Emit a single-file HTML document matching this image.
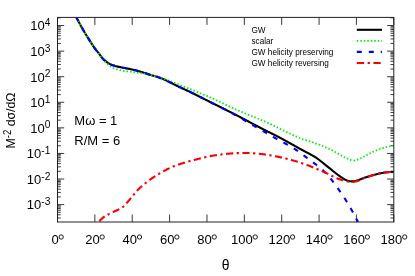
<!DOCTYPE html>
<html><head><meta charset="utf-8"><title>chart</title>
<style>html,body{margin:0;padding:0;background:#fff;}body{width:415px;height:276px;overflow:hidden;position:relative;font-family:"Liberation Sans",sans-serif;}</style></head>
<body>
<svg width="415" height="276" viewBox="0 0 415 276" style="display:block;position:absolute;left:0;top:0">
<rect x="0" y="0" width="415" height="276" fill="#fff"/>
<defs><clipPath id="pc"><rect x="57.5" y="17.4" width="336.3" height="204.6"/></clipPath></defs>
<path d="M57.5,204.61h6.7 M393.8,204.61h-6.7 M57.5,179.03h6.7 M393.8,179.03h-6.7 M57.5,153.45h6.7 M393.8,153.45h-6.7 M57.5,127.87h6.7 M393.8,127.87h-6.7 M57.5,102.29h6.7 M393.8,102.29h-6.7 M57.5,76.71h6.7 M393.8,76.71h-6.7 M57.5,51.13h6.7 M393.8,51.13h-6.7 M57.5,25.55h6.7 M393.8,25.55h-6.7 M57.5,217.99h3.3 M393.8,217.99h-3.3 M57.5,214.79h3.3 M393.8,214.79h-3.3 M57.5,212.31h3.3 M393.8,212.31h-3.3 M57.5,210.28h3.3 M393.8,210.28h-3.3 M57.5,208.57h3.3 M393.8,208.57h-3.3 M57.5,207.09h3.3 M393.8,207.09h-3.3 M57.5,205.78h3.3 M393.8,205.78h-3.3 M57.5,196.91h3.3 M393.8,196.91h-3.3 M57.5,192.41h3.3 M393.8,192.41h-3.3 M57.5,189.21h3.3 M393.8,189.21h-3.3 M57.5,186.73h3.3 M393.8,186.73h-3.3 M57.5,184.70h3.3 M393.8,184.70h-3.3 M57.5,182.99h3.3 M393.8,182.99h-3.3 M57.5,181.51h3.3 M393.8,181.51h-3.3 M57.5,180.20h3.3 M393.8,180.20h-3.3 M57.5,171.33h3.3 M393.8,171.33h-3.3 M57.5,166.83h3.3 M393.8,166.83h-3.3 M57.5,163.63h3.3 M393.8,163.63h-3.3 M57.5,161.15h3.3 M393.8,161.15h-3.3 M57.5,159.12h3.3 M393.8,159.12h-3.3 M57.5,157.41h3.3 M393.8,157.41h-3.3 M57.5,155.93h3.3 M393.8,155.93h-3.3 M57.5,154.62h3.3 M393.8,154.62h-3.3 M57.5,145.75h3.3 M393.8,145.75h-3.3 M57.5,141.25h3.3 M393.8,141.25h-3.3 M57.5,138.05h3.3 M393.8,138.05h-3.3 M57.5,135.57h3.3 M393.8,135.57h-3.3 M57.5,133.54h3.3 M393.8,133.54h-3.3 M57.5,131.83h3.3 M393.8,131.83h-3.3 M57.5,130.35h3.3 M393.8,130.35h-3.3 M57.5,129.04h3.3 M393.8,129.04h-3.3 M57.5,120.17h3.3 M393.8,120.17h-3.3 M57.5,115.67h3.3 M393.8,115.67h-3.3 M57.5,112.47h3.3 M393.8,112.47h-3.3 M57.5,109.99h3.3 M393.8,109.99h-3.3 M57.5,107.96h3.3 M393.8,107.96h-3.3 M57.5,106.25h3.3 M393.8,106.25h-3.3 M57.5,104.77h3.3 M393.8,104.77h-3.3 M57.5,103.46h3.3 M393.8,103.46h-3.3 M57.5,94.59h3.3 M393.8,94.59h-3.3 M57.5,90.09h3.3 M393.8,90.09h-3.3 M57.5,86.89h3.3 M393.8,86.89h-3.3 M57.5,84.41h3.3 M393.8,84.41h-3.3 M57.5,82.38h3.3 M393.8,82.38h-3.3 M57.5,80.67h3.3 M393.8,80.67h-3.3 M57.5,79.19h3.3 M393.8,79.19h-3.3 M57.5,77.88h3.3 M393.8,77.88h-3.3 M57.5,69.01h3.3 M393.8,69.01h-3.3 M57.5,64.51h3.3 M393.8,64.51h-3.3 M57.5,61.31h3.3 M393.8,61.31h-3.3 M57.5,58.83h3.3 M393.8,58.83h-3.3 M57.5,56.80h3.3 M393.8,56.80h-3.3 M57.5,55.09h3.3 M393.8,55.09h-3.3 M57.5,53.61h3.3 M393.8,53.61h-3.3 M57.5,52.30h3.3 M393.8,52.30h-3.3 M57.5,43.43h3.3 M393.8,43.43h-3.3 M57.5,38.93h3.3 M393.8,38.93h-3.3 M57.5,35.73h3.3 M393.8,35.73h-3.3 M57.5,33.25h3.3 M393.8,33.25h-3.3 M57.5,31.22h3.3 M393.8,31.22h-3.3 M57.5,29.51h3.3 M393.8,29.51h-3.3 M57.5,28.03h3.3 M393.8,28.03h-3.3 M57.5,26.72h3.3 M393.8,26.72h-3.3 M57.5,17.85h3.3 M393.8,17.85h-3.3 M57.50,222.0v-7.5 M57.50,17.4v7.5 M94.87,222.0v-7.5 M94.87,17.4v7.5 M132.23,222.0v-7.5 M132.23,17.4v7.5 M169.60,222.0v-7.5 M169.60,17.4v7.5 M206.97,222.0v-7.5 M206.97,17.4v7.5 M244.33,222.0v-7.5 M244.33,17.4v7.5 M281.70,222.0v-7.5 M281.70,17.4v7.5 M319.07,222.0v-7.5 M319.07,17.4v7.5 M356.43,222.0v-7.5 M356.43,17.4v7.5 M393.80,222.0v-7.5 M393.80,17.4v7.5" stroke="#222" stroke-width="0.9" fill="none"/>
<g clip-path="url(#pc)" fill="none" stroke-linejoin="round">
<path d="M76.40,17.40 L77.04,18.65 L77.67,19.88 L78.31,21.11 L78.94,22.31 L79.58,23.51 L80.22,24.68 L80.85,25.84 L81.49,26.98 L82.12,28.10 L82.76,29.21 L83.39,30.31 L84.03,31.40 L84.67,32.47 L85.30,33.53 L85.94,34.57 L86.57,35.61 L87.21,36.63 L87.85,37.65 L88.48,38.66 L89.12,39.67 L89.75,40.67 L90.39,41.66 L91.03,42.65 L91.66,43.64 L92.30,44.62 L92.93,45.59 L93.57,46.54 L94.20,47.48 L94.84,48.38 L95.48,49.24 L96.11,50.06 L96.75,50.84 L97.38,51.61 L98.02,52.38 L98.66,53.16 L99.29,53.98 L99.93,54.87 L100.56,55.79 L101.20,56.69 L101.83,57.55 L102.47,58.31 L103.11,58.99 L103.74,59.59 L104.38,60.14 L105.01,60.65 L105.65,61.13 L106.29,61.62 L106.92,62.10 L107.56,62.56 L108.19,63.01 L108.83,63.42 L109.47,63.78 L110.10,64.11 L110.74,64.41 L111.37,64.69 L112.01,64.94 L112.64,65.18 L113.28,65.39 L113.92,65.60 L114.55,65.81 L115.19,66.01 L115.82,66.19 L116.46,66.35 L117.10,66.48 L117.73,66.62 L118.37,66.75 L119.00,66.88 L119.64,67.02 L120.28,67.15 L120.91,67.28 L121.55,67.41 L122.18,67.54 L122.82,67.66 L123.45,67.79 L124.09,67.92 L124.73,68.04 L125.36,68.17 L126.00,68.29 L126.63,68.41 L127.27,68.53 L127.91,68.65 L128.54,68.78 L129.18,68.90 L129.81,69.02 L130.45,69.15 L131.08,69.28 L131.72,69.41 L132.36,69.54 L132.99,69.69 L133.63,69.83 L134.26,69.99 L134.90,70.14 L135.54,70.30 L136.17,70.47 L136.81,70.64 L137.44,70.81 L138.08,70.98 L138.72,71.16 L139.35,71.34 L139.99,71.52 L140.62,71.71 L141.26,71.90 L141.89,72.10 L142.53,72.29 L143.17,72.49 L143.80,72.69 L144.44,72.89 L145.07,73.10 L145.71,73.30 L146.35,73.52 L146.98,73.74 L147.62,73.97 L148.25,74.20 L148.89,74.42 L149.53,74.64 L150.16,74.85 L150.80,75.05 L151.43,75.23 L152.07,75.40 L152.70,75.57 L153.34,75.73 L153.98,75.90 L154.61,76.08 L155.25,76.28 L155.88,76.47 L156.52,76.67 L157.16,76.87 L157.79,77.07 L158.43,77.27 L159.06,77.48 L159.70,77.70 L160.34,77.92 L160.97,78.15 L161.61,78.39 L162.24,78.64 L162.88,78.89 L163.51,79.16 L164.15,79.44 L164.79,79.73 L165.42,80.03 L166.06,80.33 L166.69,80.64 L167.33,80.95 L167.97,81.26 L168.60,81.58 L169.24,81.90 L169.87,82.22 L170.51,82.54 L171.14,82.87 L171.78,83.19 L172.42,83.51 L173.05,83.84 L173.69,84.16 L174.32,84.49 L174.96,84.81 L175.60,85.13 L176.23,85.45 L176.87,85.77 L177.50,86.08 L178.14,86.39 L178.78,86.69 L179.41,86.99 L180.05,87.29 L180.68,87.59 L181.32,87.89 L181.95,88.18 L182.59,88.47 L183.23,88.77 L183.86,89.06 L184.50,89.35 L185.13,89.64 L185.77,89.93 L186.41,90.23 L187.04,90.52 L187.68,90.81 L188.31,91.11 L188.95,91.41 L189.59,91.70 L190.22,92.01 L190.86,92.31 L191.49,92.61 L192.13,92.92 L192.76,93.24 L193.40,93.55 L194.04,93.87 L194.67,94.19 L195.31,94.51 L195.94,94.83 L196.58,95.15 L197.22,95.47 L197.85,95.79 L198.49,96.11 L199.12,96.43 L199.76,96.75 L200.39,97.08 L201.03,97.40 L201.67,97.72 L202.30,98.04 L202.94,98.36 L203.57,98.68 L204.21,99.00 L204.85,99.32 L205.48,99.64 L206.12,99.96 L206.75,100.28 L207.39,100.60 L208.03,100.92 L208.66,101.23 L209.30,101.55 L209.93,101.87 L210.57,102.19 L211.20,102.50 L211.84,102.82 L212.48,103.14 L213.11,103.46 L213.75,103.77 L214.38,104.09 L215.02,104.41 L215.66,104.72 L216.29,105.04 L216.93,105.36 L217.56,105.68 L218.20,105.99 L218.84,106.31 L219.47,106.63 L220.11,106.94 L220.74,107.26 L221.38,107.58 L222.01,107.89 L222.65,108.21 L223.29,108.53 L223.92,108.85 L224.56,109.16 L225.19,109.48 L225.83,109.80 L226.47,110.12 L227.10,110.44 L227.74,110.75 L228.37,111.07 L229.01,111.39 L229.65,111.71 L230.28,112.03 L230.92,112.35 L231.55,112.67 L232.19,112.99 L232.82,113.31 L233.46,113.63 L234.10,113.95 L234.73,114.27 L235.37,114.59 L236.00,114.92 L236.64,115.24 L237.28,115.57 L237.91,115.90 L238.55,116.23 L239.18,116.56 L239.82,116.89 L240.45,117.23 L241.09,117.56 L241.73,117.90 L242.36,118.23 L243.00,118.57 L243.63,118.90 L244.27,119.24 L244.91,119.58 L245.54,119.92 L246.18,120.26 L246.81,120.60 L247.45,120.94 L248.09,121.28 L248.72,121.62 L249.36,121.96 L249.99,122.30 L250.63,122.64 L251.26,122.98 L251.90,123.32 L252.54,123.66 L253.17,124.00 L253.81,124.34 L254.44,124.68 L255.08,125.02 L255.72,125.36 L256.35,125.69 L256.99,126.03 L257.62,126.37 L258.26,126.70 L258.90,127.04 L259.53,127.37 L260.17,127.71 L260.80,128.04 L261.44,128.37 L262.07,128.70 L262.71,129.02 L263.35,129.35 L263.98,129.67 L264.62,129.99 L265.25,130.31 L265.89,130.63 L266.53,130.94 L267.16,131.26 L267.80,131.57 L268.43,131.89 L269.07,132.20 L269.71,132.51 L270.34,132.83 L270.98,133.14 L271.61,133.45 L272.25,133.77 L272.88,134.08 L273.52,134.40 L274.16,134.72 L274.79,135.04 L275.43,135.36 L276.06,135.68 L276.70,136.00 L277.34,136.33 L277.97,136.66 L278.61,136.99 L279.24,137.33 L279.88,137.67 L280.51,138.01 L281.15,138.35 L281.79,138.70 L282.42,139.04 L283.06,139.39 L283.69,139.74 L284.33,140.09 L284.97,140.44 L285.60,140.79 L286.24,141.14 L286.87,141.49 L287.51,141.84 L288.15,142.20 L288.78,142.55 L289.42,142.91 L290.05,143.26 L290.69,143.61 L291.32,143.97 L291.96,144.32 L292.60,144.68 L293.23,145.03 L293.87,145.39 L294.50,145.74 L295.14,146.10 L295.78,146.45 L296.41,146.81 L297.05,147.16 L297.68,147.52 L298.32,147.87 L298.96,148.22 L299.59,148.57 L300.23,148.93 L300.86,149.27 L301.50,149.62 L302.13,149.96 L302.77,150.30 L303.41,150.64 L304.04,150.97 L304.68,151.31 L305.31,151.64 L305.95,151.98 L306.59,152.31 L307.22,152.65 L307.86,152.99 L308.49,153.33 L309.13,153.67 L309.76,154.01 L310.40,154.36 L311.04,154.71 L311.67,155.06 L312.31,155.42 L312.94,155.79 L313.58,156.16 L314.22,156.53 L314.85,156.91 L315.49,157.31 L316.12,157.73 L316.76,158.16 L317.40,158.60 L318.03,159.06 L318.67,159.52 L319.30,160.00 L319.94,160.49 L320.57,160.98 L321.21,161.48 L321.85,161.99 L322.48,162.51 L323.12,163.02 L323.75,163.54 L324.39,164.07 L325.03,164.59 L325.66,165.11 L326.30,165.63 L326.93,166.15 L327.57,166.66 L328.21,167.17 L328.84,167.68 L329.48,168.17 L330.11,168.68 L330.75,169.18 L331.38,169.68 L332.02,170.19 L332.66,170.70 L333.29,171.20 L333.93,171.71 L334.56,172.22 L335.20,172.72 L335.84,173.23 L336.47,173.73 L337.11,174.23 L337.74,174.73 L338.38,175.22 L339.02,175.69 L339.65,176.15 L340.29,176.60 L340.92,177.03 L341.56,177.45 L342.19,177.86 L342.83,178.27 L343.47,178.67 L344.10,179.06 L344.74,179.44 L345.37,179.78 L346.01,180.09 L346.65,180.36 L347.28,180.60 L347.92,180.81 L348.55,180.98 L349.19,181.12 L349.82,181.23 L350.46,181.30 L351.10,181.34 L351.73,181.35 L352.37,181.34 L353.00,181.30 L353.64,181.24 L354.28,181.16 L354.91,181.05 L355.55,180.91 L356.18,180.75 L356.82,180.56 L357.46,180.35 L358.09,180.13 L358.73,179.90 L359.36,179.66 L360.00,179.42 L360.63,179.18 L361.27,178.93 L361.91,178.69 L362.54,178.45 L363.18,178.22 L363.81,177.99 L364.45,177.78 L365.09,177.57 L365.72,177.37 L366.36,177.17 L366.99,176.98 L367.63,176.78 L368.27,176.58 L368.90,176.39 L369.54,176.20 L370.17,176.00 L370.81,175.82 L371.44,175.63 L372.08,175.44 L372.72,175.26 L373.35,175.08 L373.99,174.90 L374.62,174.73 L375.26,174.56 L375.90,174.39 L376.53,174.22 L377.17,174.06 L377.80,173.90 L378.44,173.75 L379.07,173.60 L379.71,173.45 L380.35,173.31 L380.98,173.18 L381.62,173.06 L382.25,172.94 L382.89,172.83 L383.53,172.73 L384.16,172.63 L384.80,172.54 L385.43,172.45 L386.07,172.37 L386.71,172.30 L387.34,172.23 L387.98,172.17 L388.61,172.11 L389.25,172.06 L389.88,172.01 L390.52,171.96 L391.16,171.92 L391.79,171.89 L392.43,171.85 L393.06,171.83 L393.70,171.80" stroke="#000" stroke-width="2.1"/>
<path d="M76.40,17.40 L77.04,18.65 L77.67,19.88 L78.31,21.11 L78.94,22.31 L79.58,23.51 L80.22,24.68 L80.85,25.84 L81.49,26.98 L82.12,28.10 L82.76,29.21 L83.39,30.31 L84.03,31.40 L84.67,32.47 L85.30,33.53 L85.94,34.58 L86.57,35.60 L87.21,36.62 L87.85,37.64 L88.48,38.65 L89.12,39.65 L89.75,40.65 L90.39,41.65 L91.03,42.65 L91.66,43.64 L92.30,44.63 L92.93,45.61 L93.57,46.57 L94.20,47.53 L94.84,48.47 L95.48,49.37 L96.11,50.22 L96.75,51.03 L97.38,51.83 L98.02,52.62 L98.66,53.44 L99.29,54.31 L99.93,55.25 L100.56,56.23 L101.20,57.20 L101.83,58.11 L102.47,58.94 L103.11,59.69 L103.74,60.39 L104.38,61.05 L105.01,61.67 L105.65,62.27 L106.29,62.87 L106.92,63.45 L107.56,64.01 L108.19,64.56 L108.83,65.08 L109.47,65.57 L110.10,66.04 L110.74,66.49 L111.37,66.91 L112.01,67.30 L112.64,67.66 L113.28,67.98 L113.92,68.25 L114.55,68.49 L115.19,68.72 L115.82,68.94 L116.46,69.13 L117.10,69.31 L117.73,69.49 L118.37,69.66 L119.00,69.84 L119.64,70.01 L120.28,70.18 L120.91,70.35 L121.55,70.52 L122.18,70.70 L122.82,70.87 L123.45,71.01 L124.09,71.11 L124.73,71.19 L125.36,71.27 L126.00,71.34 L126.63,71.41 L127.27,71.48 L127.91,71.56 L128.54,71.63 L129.18,71.70 L129.81,71.77 L130.45,71.84 L131.08,71.92 L131.72,71.99 L132.36,72.06 L132.99,72.13 L133.63,72.21 L134.26,72.28 L134.90,72.36 L135.54,72.43 L136.17,72.51 L136.81,72.59 L137.44,72.67 L138.08,72.75 L138.72,72.83 L139.35,72.91 L139.99,72.99 L140.62,73.08 L141.26,73.18 L141.89,73.28 L142.53,73.38 L143.17,73.49 L143.80,73.61 L144.44,73.73 L145.07,73.86 L145.71,74.00 L146.35,74.15 L146.98,74.30 L147.62,74.44 L148.25,74.59 L148.89,74.74 L149.53,74.89 L150.16,75.04 L150.80,75.18 L151.43,75.33 L152.07,75.47 L152.70,75.62 L153.34,75.76 L153.98,75.91 L154.61,76.05 L155.25,76.20 L155.88,76.34 L156.52,76.49 L157.16,76.64 L157.79,76.79 L158.43,76.96 L159.06,77.14 L159.70,77.33 L160.34,77.53 L160.97,77.74 L161.61,77.95 L162.24,78.17 L162.88,78.40 L163.51,78.63 L164.15,78.87 L164.79,79.11 L165.42,79.35 L166.06,79.59 L166.69,79.83 L167.33,80.07 L167.97,80.31 L168.60,80.56 L169.24,80.80 L169.87,81.04 L170.51,81.29 L171.14,81.53 L171.78,81.78 L172.42,82.02 L173.05,82.27 L173.69,82.51 L174.32,82.76 L174.96,83.01 L175.60,83.26 L176.23,83.51 L176.87,83.76 L177.50,84.01 L178.14,84.26 L178.78,84.51 L179.41,84.76 L180.05,85.02 L180.68,85.27 L181.32,85.52 L181.95,85.78 L182.59,86.03 L183.23,86.28 L183.86,86.54 L184.50,86.79 L185.13,87.04 L185.77,87.30 L186.41,87.55 L187.04,87.81 L187.68,88.06 L188.31,88.32 L188.95,88.57 L189.59,88.83 L190.22,89.08 L190.86,89.34 L191.49,89.59 L192.13,89.85 L192.76,90.10 L193.40,90.36 L194.04,90.62 L194.67,90.87 L195.31,91.13 L195.94,91.39 L196.58,91.65 L197.22,91.91 L197.85,92.17 L198.49,92.43 L199.12,92.70 L199.76,92.96 L200.39,93.22 L201.03,93.49 L201.67,93.75 L202.30,94.02 L202.94,94.29 L203.57,94.56 L204.21,94.83 L204.85,95.09 L205.48,95.37 L206.12,95.64 L206.75,95.91 L207.39,96.18 L208.03,96.46 L208.66,96.74 L209.30,97.02 L209.93,97.31 L210.57,97.59 L211.20,97.88 L211.84,98.17 L212.48,98.47 L213.11,98.76 L213.75,99.06 L214.38,99.35 L215.02,99.65 L215.66,99.95 L216.29,100.25 L216.93,100.56 L217.56,100.86 L218.20,101.16 L218.84,101.47 L219.47,101.77 L220.11,102.08 L220.74,102.38 L221.38,102.69 L222.01,102.99 L222.65,103.30 L223.29,103.61 L223.92,103.91 L224.56,104.21 L225.19,104.52 L225.83,104.82 L226.47,105.12 L227.10,105.43 L227.74,105.73 L228.37,106.02 L229.01,106.32 L229.65,106.62 L230.28,106.91 L230.92,107.21 L231.55,107.50 L232.19,107.79 L232.82,108.07 L233.46,108.36 L234.10,108.64 L234.73,108.92 L235.37,109.20 L236.00,109.48 L236.64,109.76 L237.28,110.03 L237.91,110.31 L238.55,110.58 L239.18,110.85 L239.82,111.12 L240.45,111.39 L241.09,111.66 L241.73,111.93 L242.36,112.19 L243.00,112.46 L243.63,112.72 L244.27,112.99 L244.91,113.25 L245.54,113.51 L246.18,113.78 L246.81,114.04 L247.45,114.30 L248.09,114.56 L248.72,114.82 L249.36,115.08 L249.99,115.34 L250.63,115.60 L251.26,115.86 L251.90,116.13 L252.54,116.39 L253.17,116.65 L253.81,116.91 L254.44,117.17 L255.08,117.43 L255.72,117.69 L256.35,117.96 L256.99,118.22 L257.62,118.48 L258.26,118.75 L258.90,119.01 L259.53,119.28 L260.17,119.54 L260.80,119.81 L261.44,120.08 L262.07,120.35 L262.71,120.62 L263.35,120.89 L263.98,121.16 L264.62,121.43 L265.25,121.71 L265.89,121.99 L266.53,122.27 L267.16,122.55 L267.80,122.84 L268.43,123.13 L269.07,123.42 L269.71,123.72 L270.34,124.02 L270.98,124.32 L271.61,124.62 L272.25,124.92 L272.88,125.23 L273.52,125.54 L274.16,125.85 L274.79,126.16 L275.43,126.47 L276.06,126.78 L276.70,127.10 L277.34,127.41 L277.97,127.73 L278.61,128.05 L279.24,128.37 L279.88,128.68 L280.51,129.00 L281.15,129.32 L281.79,129.64 L282.42,129.96 L283.06,130.28 L283.69,130.59 L284.33,130.91 L284.97,131.23 L285.60,131.54 L286.24,131.86 L286.87,132.17 L287.51,132.48 L288.15,132.80 L288.78,133.11 L289.42,133.42 L290.05,133.72 L290.69,134.03 L291.32,134.33 L291.96,134.63 L292.60,134.93 L293.23,135.23 L293.87,135.52 L294.50,135.81 L295.14,136.10 L295.78,136.39 L296.41,136.67 L297.05,136.95 L297.68,137.22 L298.32,137.50 L298.96,137.77 L299.59,138.03 L300.23,138.29 L300.86,138.54 L301.50,138.79 L302.13,139.02 L302.77,139.25 L303.41,139.47 L304.04,139.68 L304.68,139.88 L305.31,140.09 L305.95,140.29 L306.59,140.48 L307.22,140.67 L307.86,140.87 L308.49,141.06 L309.13,141.25 L309.76,141.44 L310.40,141.64 L311.04,141.83 L311.67,142.04 L312.31,142.24 L312.94,142.45 L313.58,142.67 L314.22,142.90 L314.85,143.13 L315.49,143.36 L316.12,143.60 L316.76,143.83 L317.40,144.07 L318.03,144.30 L318.67,144.54 L319.30,144.78 L319.94,145.03 L320.57,145.27 L321.21,145.52 L321.85,145.77 L322.48,146.02 L323.12,146.28 L323.75,146.53 L324.39,146.79 L325.03,147.06 L325.66,147.33 L326.30,147.60 L326.93,147.88 L327.57,148.15 L328.21,148.44 L328.84,148.73 L329.48,149.02 L330.11,149.33 L330.75,149.64 L331.38,149.97 L332.02,150.30 L332.66,150.64 L333.29,150.98 L333.93,151.33 L334.56,151.69 L335.20,152.05 L335.84,152.41 L336.47,152.78 L337.11,153.14 L337.74,153.51 L338.38,153.88 L339.02,154.24 L339.65,154.60 L340.29,154.96 L340.92,155.32 L341.56,155.67 L342.19,156.01 L342.83,156.35 L343.47,156.68 L344.10,157.01 L344.74,157.32 L345.37,157.62 L346.01,157.92 L346.65,158.21 L347.28,158.49 L347.92,158.77 L348.55,159.04 L349.19,159.30 L349.82,159.56 L350.46,159.81 L351.10,160.05 L351.73,160.24 L352.37,160.39 L353.00,160.49 L353.64,160.53 L354.28,160.51 L354.91,160.42 L355.55,160.27 L356.18,160.10 L356.82,159.90 L357.46,159.67 L358.09,159.43 L358.73,159.17 L359.36,158.89 L360.00,158.60 L360.63,158.30 L361.27,158.00 L361.91,157.68 L362.54,157.36 L363.18,157.03 L363.81,156.70 L364.45,156.36 L365.09,156.02 L365.72,155.68 L366.36,155.34 L366.99,155.00 L367.63,154.65 L368.27,154.31 L368.90,153.97 L369.54,153.63 L370.17,153.30 L370.81,152.97 L371.44,152.65 L372.08,152.34 L372.72,152.03 L373.35,151.73 L373.99,151.44 L374.62,151.16 L375.26,150.89 L375.90,150.63 L376.53,150.37 L377.17,150.13 L377.80,149.88 L378.44,149.65 L379.07,149.41 L379.71,149.19 L380.35,148.97 L380.98,148.75 L381.62,148.55 L382.25,148.34 L382.89,148.14 L383.53,147.95 L384.16,147.76 L384.80,147.58 L385.43,147.40 L386.07,147.23 L386.71,147.06 L387.34,146.90 L387.98,146.74 L388.61,146.58 L389.25,146.43 L389.88,146.29 L390.52,146.15 L391.16,146.01 L391.79,145.88 L392.43,145.75 L393.06,145.62 L393.70,145.50" stroke="#00f000" stroke-width="1.8" stroke-dasharray="1.5 2.0"/>
<path d="M76.40,17.40 L76.96,18.51 L77.53,19.61 L78.09,20.70 L78.66,21.77 L79.22,22.84 L79.79,23.89 L80.35,24.93 L80.91,25.95 L81.48,26.96 L82.04,27.96 L82.61,28.95 L83.17,29.93 L83.74,30.89 L84.30,31.85 L84.86,32.80 L85.43,33.74 L85.99,34.66 L86.56,35.58 L87.12,36.49 L87.69,37.39 L88.25,38.29 L88.82,39.19 L89.38,40.08 L89.94,40.96 L90.51,41.85 L91.07,42.73 L91.64,43.60 L92.20,44.47 L92.77,45.34 L93.33,46.19 L93.89,47.02 L94.46,47.84 L95.02,48.63 L95.59,49.39 L96.15,50.11 L96.72,50.80 L97.28,51.48 L97.84,52.16 L98.41,52.85 L98.97,53.57 L99.54,54.32 L100.10,55.12 L100.67,55.93 L101.23,56.73 L101.79,57.49 L102.36,58.19 L102.92,58.80 L103.49,59.36 L104.05,59.87 L104.62,60.33 L105.18,60.78 L105.75,61.21 L106.31,61.63 L106.87,62.06 L107.44,62.48 L108.00,62.88 L108.57,63.25 L109.13,63.60 L109.70,63.90 L110.26,64.18 L110.82,64.45 L111.39,64.69 L111.95,64.92 L112.52,65.13 L113.08,65.33 L113.65,65.52 L114.21,65.70 L114.77,65.88 L115.34,66.05 L115.90,66.21 L116.47,66.35 L117.03,66.47 L117.60,66.59 L118.16,66.71 L118.72,66.83 L119.29,66.94 L119.85,67.06 L120.42,67.18 L120.98,67.29 L121.55,67.41 L122.11,67.52 L122.67,67.64 L123.24,67.75 L123.80,67.86 L124.37,67.97 L124.93,68.08 L125.50,68.19 L126.06,68.30 L126.63,68.41 L127.19,68.52 L127.75,68.63 L128.32,68.73 L128.88,68.84 L129.45,68.95 L130.01,69.06 L130.58,69.17 L131.14,69.29 L131.70,69.40 L132.27,69.52 L132.83,69.65 L133.40,69.78 L133.96,69.91 L134.53,70.05 L135.09,70.19 L135.65,70.33 L136.22,70.48 L136.78,70.63 L137.35,70.78 L137.91,70.94 L138.48,71.09 L139.04,71.25 L139.60,71.41 L140.17,71.58 L140.73,71.74 L141.30,71.91 L141.86,72.09 L142.43,72.26 L142.99,72.43 L143.56,72.61 L144.12,72.79 L144.68,72.97 L145.25,73.15 L145.81,73.34 L146.38,73.53 L146.94,73.72 L147.51,73.93 L148.07,74.13 L148.63,74.33 L149.20,74.53 L149.76,74.72 L150.33,74.90 L150.89,75.07 L151.46,75.23 L152.02,75.38 L152.58,75.53 L153.15,75.68 L153.71,75.83 L154.28,75.99 L154.84,76.15 L155.41,76.32 L155.97,76.50 L156.53,76.67 L157.10,76.85 L157.66,77.03 L158.23,77.21 L158.79,77.39 L159.36,77.58 L159.92,77.78 L160.48,77.97 L161.05,78.18 L161.61,78.39 L162.18,78.61 L162.74,78.84 L163.31,79.07 L163.87,79.32 L164.44,79.57 L165.00,79.83 L165.56,80.10 L166.13,80.37 L166.69,80.64 L167.26,80.91 L167.82,81.19 L168.39,81.47 L168.95,81.75 L169.51,82.04 L170.08,82.32 L170.64,82.61 L171.21,82.90 L171.77,83.18 L172.34,83.47 L172.90,83.76 L173.46,84.05 L174.03,84.34 L174.59,84.62 L175.16,84.91 L175.72,85.19 L176.29,85.48 L176.85,85.76 L177.41,86.03 L177.98,86.31 L178.54,86.58 L179.11,86.85 L179.67,87.12 L180.24,87.38 L180.80,87.65 L181.37,87.91 L181.93,88.17 L182.49,88.43 L183.06,88.68 L183.62,88.94 L184.19,89.20 L184.75,89.46 L185.32,89.71 L185.88,89.97 L186.44,90.23 L187.01,90.49 L187.57,90.75 L188.14,91.01 L188.70,91.27 L189.27,91.53 L189.83,91.80 L190.39,92.07 L190.96,92.34 L191.52,92.62 L192.09,92.89 L192.65,93.17 L193.22,93.46 L193.78,93.74 L194.34,94.03 L194.91,94.32 L195.47,94.61 L196.04,94.90 L196.60,95.19 L197.17,95.48 L197.73,95.76 L198.29,96.05 L198.86,96.35 L199.42,96.64 L199.99,96.93 L200.55,97.22 L201.12,97.51 L201.68,97.80 L202.25,98.09 L202.81,98.38 L203.37,98.67 L203.94,98.96 L204.50,99.25 L205.07,99.53 L205.63,99.82 L206.20,100.11 L206.76,100.40 L207.32,100.68 L207.89,100.96 L208.45,101.25 L209.02,101.53 L209.58,101.81 L210.15,102.09 L210.71,102.37 L211.27,102.65 L211.84,102.93 L212.40,103.21 L212.97,103.49 L213.53,103.77 L214.10,104.05 L214.66,104.33 L215.22,104.60 L215.79,104.88 L216.35,105.16 L216.92,105.44 L217.48,105.72 L218.05,106.00 L218.61,106.28 L219.18,106.56 L219.74,106.84 L220.30,107.12 L220.87,107.40 L221.43,107.68 L222.00,107.97 L222.56,108.25 L223.13,108.54 L223.69,108.82 L224.25,109.11 L224.82,109.40 L225.38,109.69 L225.95,109.98 L226.51,110.27 L227.08,110.56 L227.64,110.86 L228.20,111.15 L228.77,111.45 L229.33,111.75 L229.90,112.05 L230.46,112.35 L231.03,112.66 L231.59,112.97 L232.15,113.28 L232.72,113.59 L233.28,113.90 L233.85,114.21 L234.41,114.53 L234.98,114.85 L235.54,115.17 L236.11,115.49 L236.67,115.81 L237.23,116.13 L237.80,116.45 L238.36,116.77 L238.93,117.10 L239.49,117.42 L240.06,117.75 L240.62,118.07 L241.18,118.40 L241.75,118.72 L242.31,119.05 L242.88,119.37 L243.44,119.70 L244.01,120.03 L244.57,120.36 L245.13,120.68 L245.70,121.01 L246.26,121.34 L246.83,121.67 L247.39,121.99 L247.96,122.32 L248.52,122.65 L249.08,122.98 L249.65,123.31 L250.21,123.63 L250.78,123.96 L251.34,124.29 L251.91,124.62 L252.47,124.94 L253.03,125.27 L253.60,125.60 L254.16,125.92 L254.73,126.25 L255.29,126.57 L255.86,126.90 L256.42,127.22 L256.99,127.55 L257.55,127.88 L258.11,128.20 L258.68,128.53 L259.24,128.85 L259.81,129.18 L260.37,129.50 L260.94,129.83 L261.50,130.15 L262.06,130.48 L262.63,130.81 L263.19,131.13 L263.76,131.46 L264.32,131.78 L264.89,132.11 L265.45,132.43 L266.01,132.76 L266.58,133.09 L267.14,133.41 L267.71,133.74 L268.27,134.06 L268.84,134.39 L269.40,134.71 L269.96,135.04 L270.53,135.37 L271.09,135.69 L271.66,136.02 L272.22,136.34 L272.79,136.67 L273.35,136.99 L273.92,137.32 L274.48,137.65 L275.04,137.97 L275.61,138.29 L276.17,138.61 L276.74,138.92 L277.30,139.23 L277.87,139.54 L278.43,139.85 L278.99,140.16 L279.56,140.46 L280.12,140.77 L280.69,141.07 L281.25,141.37 L281.82,141.67 L282.38,141.97 L282.94,142.27 L283.51,142.57 L284.07,142.88 L284.64,143.18 L285.20,143.48 L285.77,143.79 L286.33,144.09 L286.89,144.40 L287.46,144.71 L288.02,145.02 L288.59,145.33 L289.15,145.65 L289.72,145.97 L290.28,146.29 L290.84,146.62 L291.41,146.95 L291.97,147.28 L292.54,147.62 L293.10,147.96 L293.67,148.31 L294.23,148.66 L294.80,149.02 L295.36,149.38 L295.92,149.75 L296.49,150.12 L297.05,150.51 L297.62,150.90 L298.18,151.30 L298.75,151.71 L299.31,152.12 L299.87,152.53 L300.44,152.95 L301.00,153.38 L301.57,153.80 L302.13,154.23 L302.70,154.66 L303.26,155.09 L303.82,155.52 L304.39,155.94 L304.95,156.37 L305.52,156.79 L306.08,157.21 L306.65,157.63 L307.21,158.05 L307.77,158.47 L308.34,158.89 L308.90,159.30 L309.47,159.72 L310.03,160.14 L310.60,160.56 L311.16,160.99 L311.73,161.41 L312.29,161.83 L312.85,162.25 L313.42,162.67 L313.98,163.09 L314.55,163.51 L315.11,163.93 L315.68,164.36 L316.24,164.79 L316.80,165.22 L317.37,165.67 L317.93,166.11 L318.50,166.57 L319.06,167.03 L319.63,167.49 L320.19,167.96 L320.75,168.44 L321.32,168.92 L321.88,169.41 L322.45,169.90 L323.01,170.40 L323.58,170.91 L324.14,171.42 L324.70,171.95 L325.27,172.50 L325.83,173.07 L326.40,173.66 L326.96,174.27 L327.53,174.90 L328.09,175.55 L328.65,176.21 L329.22,176.88 L329.78,177.57 L330.35,178.27 L330.91,178.98 L331.48,179.71 L332.04,180.45 L332.61,181.19 L333.17,181.93 L333.73,182.69 L334.30,183.45 L334.86,184.21 L335.43,184.98 L335.99,185.76 L336.56,186.54 L337.12,187.33 L337.68,188.12 L338.25,188.92 L338.81,189.72 L339.38,190.52 L339.94,191.33 L340.51,192.15 L341.07,192.96 L341.63,193.78 L342.20,194.61 L342.76,195.44 L343.33,196.29 L343.89,197.14 L344.46,198.00 L345.02,198.87 L345.58,199.76 L346.15,200.66 L346.71,201.57 L347.28,202.50 L347.84,203.45 L348.41,204.40 L348.97,205.37 L349.54,206.34 L350.10,207.33 L350.66,208.32 L351.23,209.32 L351.79,210.33 L352.36,211.34 L352.92,212.36 L353.49,213.39 L354.05,214.42 L354.61,215.46 L355.18,216.51 L355.74,217.57 L356.31,218.65 L356.87,219.73 L357.44,220.85 L358.00,222.00" stroke="#0000ff" stroke-width="2.1" stroke-dasharray="5 6.92" stroke-dashoffset="0.8"/>
<path d="M98.70,221.80 L99.29,221.20 L99.88,220.61 L100.47,220.02 L101.06,219.44 L101.66,218.89 L102.25,218.34 L102.84,217.82 L103.43,217.33 L104.02,216.87 L104.61,216.43 L105.20,216.03 L105.79,215.67 L106.39,215.36 L106.98,215.06 L107.57,214.76 L108.16,214.46 L108.75,214.17 L109.34,213.88 L109.93,213.59 L110.52,213.30 L111.11,213.01 L111.71,212.73 L112.30,212.44 L112.89,212.16 L113.48,211.88 L114.07,211.60 L114.66,211.32 L115.25,211.04 L115.84,210.76 L116.44,210.48 L117.03,210.21 L117.62,209.93 L118.21,209.64 L118.80,209.36 L119.39,209.07 L119.98,208.78 L120.57,208.47 L121.16,208.13 L121.76,207.77 L122.35,207.37 L122.94,206.93 L123.53,206.45 L124.12,205.90 L124.71,205.30 L125.30,204.64 L125.89,203.98 L126.49,203.30 L127.08,202.62 L127.67,201.93 L128.26,201.23 L128.85,200.53 L129.44,199.82 L130.03,199.11 L130.62,198.41 L131.22,197.70 L131.81,196.99 L132.40,196.28 L132.99,195.56 L133.58,194.83 L134.17,194.11 L134.76,193.39 L135.35,192.68 L135.94,191.98 L136.54,191.29 L137.13,190.62 L137.72,189.99 L138.31,189.39 L138.90,188.81 L139.49,188.26 L140.08,187.73 L140.67,187.21 L141.27,186.71 L141.86,186.21 L142.45,185.71 L143.04,185.22 L143.63,184.72 L144.22,184.23 L144.81,183.73 L145.40,183.24 L145.99,182.75 L146.59,182.27 L147.18,181.79 L147.77,181.32 L148.36,180.87 L148.95,180.42 L149.54,179.99 L150.13,179.56 L150.72,179.15 L151.32,178.74 L151.91,178.34 L152.50,177.94 L153.09,177.55 L153.68,177.16 L154.27,176.77 L154.86,176.40 L155.45,176.02 L156.04,175.65 L156.64,175.28 L157.23,174.91 L157.82,174.54 L158.41,174.18 L159.00,173.82 L159.59,173.46 L160.18,173.11 L160.77,172.76 L161.37,172.41 L161.96,172.07 L162.55,171.74 L163.14,171.40 L163.73,171.08 L164.32,170.76 L164.91,170.45 L165.50,170.14 L166.09,169.83 L166.69,169.54 L167.28,169.24 L167.87,168.95 L168.46,168.66 L169.05,168.38 L169.64,168.11 L170.23,167.83 L170.82,167.57 L171.42,167.30 L172.01,167.05 L172.60,166.79 L173.19,166.54 L173.78,166.30 L174.37,166.06 L174.96,165.83 L175.55,165.60 L176.14,165.38 L176.74,165.16 L177.33,164.94 L177.92,164.73 L178.51,164.53 L179.10,164.33 L179.69,164.14 L180.28,163.95 L180.87,163.76 L181.47,163.57 L182.06,163.38 L182.65,163.20 L183.24,163.02 L183.83,162.84 L184.42,162.66 L185.01,162.48 L185.60,162.31 L186.19,162.13 L186.79,161.96 L187.38,161.79 L187.97,161.62 L188.56,161.46 L189.15,161.29 L189.74,161.13 L190.33,160.97 L190.92,160.81 L191.52,160.65 L192.11,160.49 L192.70,160.34 L193.29,160.18 L193.88,160.02 L194.47,159.87 L195.06,159.71 L195.65,159.56 L196.25,159.41 L196.84,159.26 L197.43,159.11 L198.02,158.96 L198.61,158.81 L199.20,158.66 L199.79,158.51 L200.38,158.36 L200.97,158.22 L201.57,158.08 L202.16,157.93 L202.75,157.79 L203.34,157.65 L203.93,157.51 L204.52,157.38 L205.11,157.24 L205.70,157.11 L206.30,156.97 L206.89,156.84 L207.48,156.71 L208.07,156.59 L208.66,156.46 L209.25,156.34 L209.84,156.22 L210.43,156.10 L211.02,155.99 L211.62,155.88 L212.21,155.77 L212.80,155.67 L213.39,155.57 L213.98,155.47 L214.57,155.37 L215.16,155.28 L215.75,155.19 L216.35,155.10 L216.94,155.01 L217.53,154.92 L218.12,154.84 L218.71,154.76 L219.30,154.68 L219.89,154.60 L220.48,154.53 L221.07,154.45 L221.67,154.38 L222.26,154.31 L222.85,154.24 L223.44,154.17 L224.03,154.11 L224.62,154.04 L225.21,153.98 L225.80,153.91 L226.40,153.85 L226.99,153.80 L227.58,153.74 L228.17,153.69 L228.76,153.63 L229.35,153.58 L229.94,153.54 L230.53,153.49 L231.12,153.45 L231.72,153.41 L232.31,153.37 L232.90,153.33 L233.49,153.29 L234.08,153.26 L234.67,153.23 L235.26,153.20 L235.85,153.17 L236.45,153.15 L237.04,153.12 L237.63,153.10 L238.22,153.08 L238.81,153.07 L239.40,153.05 L239.99,153.04 L240.58,153.02 L241.17,153.01 L241.77,153.01 L242.36,153.00 L242.95,153.00 L243.54,152.99 L244.13,152.99 L244.72,152.99 L245.31,153.00 L245.90,153.00 L246.50,153.01 L247.09,153.02 L247.68,153.03 L248.27,153.05 L248.86,153.06 L249.45,153.08 L250.04,153.11 L250.63,153.13 L251.23,153.16 L251.82,153.19 L252.41,153.22 L253.00,153.25 L253.59,153.29 L254.18,153.33 L254.77,153.37 L255.36,153.42 L255.95,153.46 L256.55,153.51 L257.14,153.56 L257.73,153.62 L258.32,153.68 L258.91,153.74 L259.50,153.80 L260.09,153.86 L260.68,153.93 L261.28,154.00 L261.87,154.07 L262.46,154.15 L263.05,154.23 L263.64,154.31 L264.23,154.39 L264.82,154.47 L265.41,154.56 L266.00,154.65 L266.60,154.74 L267.19,154.83 L267.78,154.93 L268.37,155.02 L268.96,155.12 L269.55,155.21 L270.14,155.31 L270.73,155.41 L271.33,155.51 L271.92,155.62 L272.51,155.72 L273.10,155.83 L273.69,155.94 L274.28,156.05 L274.87,156.16 L275.46,156.27 L276.05,156.38 L276.65,156.50 L277.24,156.62 L277.83,156.74 L278.42,156.86 L279.01,156.98 L279.60,157.10 L280.19,157.23 L280.78,157.36 L281.38,157.49 L281.97,157.62 L282.56,157.75 L283.15,157.89 L283.74,158.03 L284.33,158.16 L284.92,158.31 L285.51,158.45 L286.10,158.59 L286.70,158.74 L287.29,158.89 L287.88,159.04 L288.47,159.19 L289.06,159.35 L289.65,159.51 L290.24,159.67 L290.83,159.83 L291.43,159.99 L292.02,160.15 L292.61,160.32 L293.20,160.49 L293.79,160.65 L294.38,160.82 L294.97,161.00 L295.56,161.17 L296.15,161.35 L296.75,161.53 L297.34,161.71 L297.93,161.89 L298.52,162.08 L299.11,162.27 L299.70,162.46 L300.29,162.65 L300.88,162.85 L301.48,163.05 L302.07,163.25 L302.66,163.46 L303.25,163.67 L303.84,163.87 L304.43,164.08 L305.02,164.29 L305.61,164.50 L306.21,164.72 L306.80,164.93 L307.39,165.15 L307.98,165.38 L308.57,165.60 L309.16,165.83 L309.75,166.06 L310.34,166.30 L310.93,166.53 L311.53,166.77 L312.12,167.01 L312.71,167.25 L313.30,167.50 L313.89,167.74 L314.48,167.98 L315.07,168.23 L315.66,168.48 L316.26,168.72 L316.85,168.97 L317.44,169.22 L318.03,169.47 L318.62,169.72 L319.21,169.97 L319.80,170.23 L320.39,170.48 L320.98,170.74 L321.58,171.00 L322.17,171.26 L322.76,171.52 L323.35,171.78 L323.94,172.04 L324.53,172.30 L325.12,172.57 L325.71,172.83 L326.31,173.09 L326.90,173.36 L327.49,173.64 L328.08,173.93 L328.67,174.22 L329.26,174.52 L329.85,174.82 L330.44,175.13 L331.03,175.44 L331.63,175.74 L332.22,176.05 L332.81,176.35 L333.40,176.65 L333.99,176.95 L334.58,177.24 L335.17,177.52 L335.76,177.79 L336.36,178.06 L336.95,178.31 L337.54,178.54 L338.13,178.77 L338.72,178.98 L339.31,179.18 L339.90,179.37 L340.49,179.55 L341.08,179.73 L341.68,179.90 L342.27,180.07 L342.86,180.23 L343.45,180.39 L344.04,180.55 L344.63,180.70 L345.22,180.86 L345.81,181.01 L346.41,181.15 L347.00,181.28 L347.59,181.40 L348.18,181.51 L348.77,181.61 L349.36,181.69 L349.95,181.77 L350.54,181.82 L351.13,181.87 L351.73,181.89 L352.32,181.90 L352.91,181.89 L353.50,181.85 L354.09,181.78 L354.68,181.69 L355.27,181.58 L355.86,181.45 L356.46,181.29 L357.05,181.12 L357.64,180.93 L358.23,180.72 L358.82,180.49 L359.41,180.24 L360.00,179.98 L360.59,179.71 L361.18,179.44 L361.78,179.16 L362.37,178.89 L362.96,178.63 L363.55,178.37 L364.14,178.12 L364.73,177.90 L365.32,177.69 L365.91,177.48 L366.51,177.28 L367.10,177.07 L367.69,176.87 L368.28,176.68 L368.87,176.48 L369.46,176.29 L370.05,176.10 L370.64,175.91 L371.24,175.72 L371.83,175.54 L372.42,175.36 L373.01,175.19 L373.60,175.01 L374.19,174.85 L374.78,174.68 L375.37,174.52 L375.96,174.36 L376.56,174.21 L377.15,174.06 L377.74,173.91 L378.33,173.77 L378.92,173.63 L379.51,173.50 L380.10,173.37 L380.69,173.25 L381.29,173.13 L381.88,173.02 L382.47,172.91 L383.06,172.81 L383.65,172.72 L384.24,172.63 L384.83,172.54 L385.42,172.46 L386.01,172.38 L386.61,172.31 L387.20,172.25 L387.79,172.18 L388.38,172.13 L388.97,172.07 L389.56,172.03 L390.15,171.98 L390.74,171.94 L391.34,171.90 L391.93,171.87 L392.52,171.84 L393.11,171.82 L393.70,171.80" stroke="#ff0000" stroke-width="2.1" stroke-dasharray="7.2 3.45 2.3 3.45" stroke-dashoffset="-0.8"/>
</g>
<rect x="57.5" y="17.4" width="336.3" height="204.6" fill="none" stroke="#222" stroke-width="1"/>
<g fill="none">
<path d="M356.8,29.8H382.0" stroke="#000" stroke-width="2.1"/>
<path d="M356.8,40.8H382.0" stroke="#00f000" stroke-width="1.8" stroke-dasharray="1.5 2.0"/>
<path d="M356.8,51.9H382.0" stroke="#0000ff" stroke-width="2.1" stroke-dasharray="5 7"/>
<path d="M356.8,63.0H382.0" stroke="#ff0000" stroke-width="2.1" stroke-dasharray="7.3 3.5 2.3 3.5"/>
</g>
<g font-family="Liberation Sans, sans-serif" fill="#000" style="will-change:transform;transform:translateZ(0)">
<text x="251.5" y="32.8" font-size="8.2">GW</text>
<text x="251.5" y="43.8" font-size="8.2">scalar</text>
<text x="251.5" y="54.9" font-size="8.2">GW helicity preserving</text>
<text x="251.5" y="66.0" font-size="8.2">GW helicity reversing</text>
<text x="50.3" y="209.41" font-size="13" text-anchor="end">10<tspan font-size="10.2" dy="-4.3">-3</tspan></text>
<text x="50.3" y="183.83" font-size="13" text-anchor="end">10<tspan font-size="10.2" dy="-4.3">-2</tspan></text>
<text x="50.3" y="158.25" font-size="13" text-anchor="end">10<tspan font-size="10.2" dy="-4.3">-1</tspan></text>
<text x="50.3" y="132.67" font-size="13" text-anchor="end">10<tspan font-size="10.2" dy="-4.3">0</tspan></text>
<text x="50.3" y="107.09" font-size="13" text-anchor="end">10<tspan font-size="10.2" dy="-4.3">1</tspan></text>
<text x="50.3" y="81.51" font-size="13" text-anchor="end">10<tspan font-size="10.2" dy="-4.3">2</tspan></text>
<text x="50.3" y="55.93" font-size="13" text-anchor="end">10<tspan font-size="10.2" dy="-4.3">3</tspan></text>
<text x="50.3" y="30.35" font-size="13" text-anchor="end">10<tspan font-size="10.2" dy="-4.3">4</tspan></text>
<text x="51.48" y="244.3" font-size="13">0</text>
<text x="85.24" y="244.3" font-size="13">20</text>
<text x="122.60" y="244.3" font-size="13">40</text>
<text x="159.97" y="244.3" font-size="13">60</text>
<text x="197.34" y="244.3" font-size="13">80</text>
<text x="231.09" y="244.3" font-size="13">100</text>
<text x="268.45" y="244.3" font-size="13">120</text>
<text x="305.82" y="244.3" font-size="13">140</text>
<text x="343.19" y="244.3" font-size="13">160</text>
<text x="380.55" y="244.3" font-size="13">180</text>
<g fill="none" stroke="#111" stroke-width="0.95"><circle cx="61.17" cy="237.0" r="2.15"/><circle cx="102.15" cy="237.0" r="2.15"/><circle cx="139.51" cy="237.0" r="2.15"/><circle cx="176.88" cy="237.0" r="2.15"/><circle cx="214.25" cy="237.0" r="2.15"/><circle cx="255.23" cy="237.0" r="2.15"/><circle cx="292.60" cy="237.0" r="2.15"/><circle cx="329.96" cy="237.0" r="2.15"/><circle cx="367.33" cy="237.0" r="2.15"/><circle cx="404.70" cy="237.0" r="2.15"/></g>
<text x="74.3" y="124.8" font-size="13">Mω = 1</text>
<text x="74.3" y="145.1" font-size="13">R/M = 6</text>
<text x="225.6" y="269.7" font-size="14" text-anchor="middle">θ</text>
<text transform="translate(15.4,148.4) rotate(-90)" font-size="13" textLength="55.8" lengthAdjust="spacingAndGlyphs">M<tspan font-size="10.2" dy="-4.3">-2</tspan><tspan dy="4.3"> dσ/dΩ</tspan></text>
</g>
</svg>
</body></html>
